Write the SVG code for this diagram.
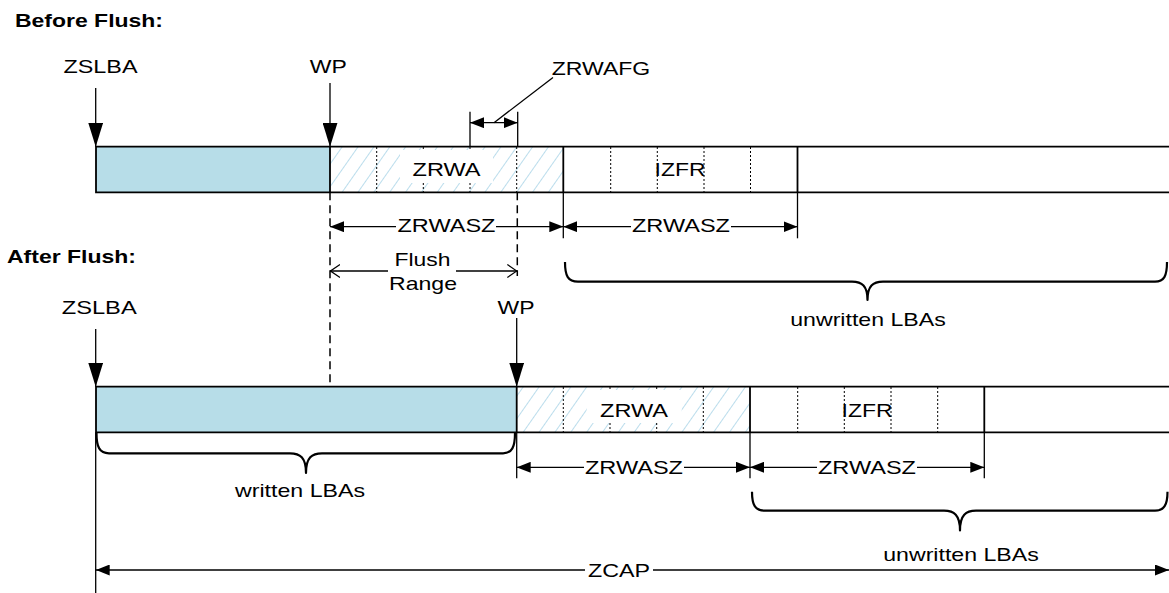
<svg xmlns="http://www.w3.org/2000/svg" width="1169" height="593" viewBox="0 0 1169 593">
<style>
text{font-family:"Liberation Sans",Arial,sans-serif;font-size:19px;fill:#000}
.hd{font-weight:bold}
.m{text-anchor:middle}
.edge{stroke:#000;stroke-width:1.8;fill:none}
.thin{stroke:#000;stroke-width:1.3;fill:none}
.dot{stroke:#000;stroke-width:1;stroke-dasharray:2 2;fill:none}
.dash{stroke:#000;stroke-width:1.5;stroke-dasharray:8 5;fill:none}
.brace{stroke:#000;stroke-width:2.2;fill:none;stroke-linejoin:round}
.blue{fill:#b7dde8}
.bg{fill:#fff}
</style>
<defs>
<pattern id="hatch" patternUnits="userSpaceOnUse" width="13" height="13" patternTransform="rotate(35)">
<line x1="0" y1="-1" x2="0" y2="14" stroke="#a9d4e8" stroke-width="1.6"/>
</pattern>
<marker id="fa" viewBox="0 0 14 11" refX="14" refY="5.5" markerWidth="14" markerHeight="11" markerUnits="userSpaceOnUse" orient="auto-start-reverse"><path d="M0,0 L14,5.5 L0,11 z" fill="#000"/></marker>
<marker id="big" viewBox="0 0 24 15" refX="24" refY="7.5" markerWidth="24" markerHeight="15" markerUnits="userSpaceOnUse" orient="auto"><path d="M0,0 L24,7.5 L0,15 z" fill="#000"/></marker>
<marker id="oa" viewBox="0 0 10 14" refX="10" refY="7" markerWidth="10" markerHeight="14" markerUnits="userSpaceOnUse" orient="auto-start-reverse"><path d="M0,0.5 L9.5,7 L0,13.5" fill="none" stroke="#000" stroke-width="1.2"/></marker>
</defs>

<g id="heading-before"><text class="hd" x="15" y="26.7" textLength="148" lengthAdjust="spacingAndGlyphs">Before Flush:</text></g>
<g id="heading-after"><text class="hd" x="7" y="263.3" textLength="129" lengthAdjust="spacingAndGlyphs">After Flush:</text></g>

<!-- Before flush bar -->
<g id="before-written">
<rect class="blue" x="96" y="146.7" width="234" height="45.6"/>
</g>
<g id="before-zrwa">
<rect fill="url(#hatch)" x="330" y="146.7" width="233.3" height="45.6"/>
<line class="dot" x1="376.7" y1="147" x2="376.7" y2="192"/>
<line class="dot" x1="423.3" y1="147" x2="423.3" y2="192"/>
<line class="dot" x1="470" y1="147" x2="470" y2="192"/>
<line class="dot" x1="516.7" y1="147" x2="516.7" y2="192"/>
<rect class="bg" x="400" y="150" width="93" height="33"/>
<text class="m" x="446.5" y="176" textLength="68" lengthAdjust="spacingAndGlyphs">ZRWA</text>
</g>
<g id="before-izfr">
<line class="dot" x1="610.7" y1="147" x2="610.7" y2="192"/>
<line class="dot" x1="657.3" y1="147" x2="657.3" y2="192"/>
<line class="dot" x1="704" y1="147" x2="704" y2="192"/>
<line class="dot" x1="750.5" y1="147" x2="750.5" y2="192"/>
<text class="m" x="680" y="175.7" textLength="51" lengthAdjust="spacingAndGlyphs">IZFR</text>
</g>
<g id="before-outline">
<path class="edge" d="M1169,146.7 H96 V192.3 H1169"/>
<line class="edge" x1="330" y1="146.7" x2="330" y2="192.3"/>
<line class="edge" x1="563.3" y1="146.7" x2="563.3" y2="192.3"/>
<line class="edge" x1="797.5" y1="146.7" x2="797.5" y2="192.3"/>
</g>

<!-- After flush bar -->
<g id="after-written">
<rect class="blue" x="96" y="386.7" width="420.7" height="45.6"/>
</g>
<g id="after-zrwa">
<rect fill="url(#hatch)" x="516.7" y="386.7" width="233.3" height="45.6"/>
<line class="dot" x1="563.3" y1="387" x2="563.3" y2="432"/>
<line class="dot" x1="610" y1="387" x2="610" y2="432"/>
<line class="dot" x1="656.7" y1="387" x2="656.7" y2="432"/>
<line class="dot" x1="703.3" y1="387" x2="703.3" y2="432"/>
<rect class="bg" x="586.7" y="390" width="95" height="33"/>
<text class="m" x="634" y="416.7" textLength="68" lengthAdjust="spacingAndGlyphs">ZRWA</text>
</g>
<g id="after-izfr">
<line class="dot" x1="797.7" y1="387" x2="797.7" y2="432"/>
<line class="dot" x1="844.3" y1="387" x2="844.3" y2="432"/>
<line class="dot" x1="891" y1="387" x2="891" y2="432"/>
<line class="dot" x1="937.7" y1="387" x2="937.7" y2="432"/>
<text class="m" x="867" y="416.7" textLength="51" lengthAdjust="spacingAndGlyphs">IZFR</text>
</g>
<g id="after-outline">
<path class="edge" d="M1169,386.7 H96 V432.3 H1169"/>
<line class="edge" x1="516.7" y1="386.7" x2="516.7" y2="432.3"/>
<line class="edge" x1="750" y1="386.7" x2="750" y2="432.3"/>
<line class="edge" x1="984.3" y1="386.7" x2="984.3" y2="432.3"/>
</g>

<!-- Pointer labels -->
<g id="zslba-top"><text class="m" x="100.5" y="72.7" textLength="74" lengthAdjust="spacingAndGlyphs">ZSLBA</text></g>
<g id="wp-top"><text class="m" x="328.3" y="72.7" textLength="37" lengthAdjust="spacingAndGlyphs">WP</text></g>
<g id="zrwafg"><text class="m" x="601" y="75" textLength="98.5" lengthAdjust="spacingAndGlyphs">ZRWAFG</text></g>
<g id="zslba-bottom"><text class="m" x="99.2" y="314" textLength="75" lengthAdjust="spacingAndGlyphs">ZSLBA</text></g>
<g id="wp-bottom"><text class="m" x="516" y="314" textLength="37" lengthAdjust="spacingAndGlyphs">WP</text></g>

<g id="connectors">
<!-- pointer arrows -->
<line class="thin" x1="95.7" y1="88" x2="95.7" y2="146.7" marker-end="url(#big)"/>
<line class="thin" x1="330" y1="83" x2="330" y2="146.7" marker-end="url(#big)"/>
<line class="thin" x1="95.7" y1="329" x2="95.7" y2="386.7" marker-end="url(#big)"/>
<line class="thin" x1="516.7" y1="318" x2="516.7" y2="386.7" marker-end="url(#big)"/>

<!-- ZRWAFG -->
<line class="thin" x1="470" y1="111.7" x2="470" y2="146.7"/>
<line class="thin" x1="517.7" y1="111.7" x2="517.7" y2="146.7"/>
<line class="thin" x1="470" y1="122.7" x2="517.7" y2="122.7" marker-start="url(#fa)" marker-end="url(#fa)"/>
<line class="thin" x1="494" y1="122.7" x2="553" y2="77.5"/>

<!-- extension lines below top bar -->
<line class="dash" x1="330" y1="192.3" x2="330" y2="386.7"/>
<line class="dash" x1="517.3" y1="192.3" x2="517.3" y2="276"/>
<line class="thin" x1="563.3" y1="192.3" x2="563.3" y2="238.3"/>
<line class="thin" x1="797.5" y1="192.3" x2="797.5" y2="238.3"/>

<!-- ZRWASZ top -->
<line class="thin" x1="330" y1="226.7" x2="563.3" y2="226.7" marker-start="url(#fa)" marker-end="url(#fa)"/>
<line class="thin" x1="563.3" y1="226.7" x2="797.5" y2="226.7" marker-start="url(#fa)" marker-end="url(#fa)"/>

<!-- Flush range -->
<line class="thin" x1="330" y1="271" x2="517.3" y2="271" marker-start="url(#oa)" marker-end="url(#oa)"/>

<!-- extension lines below bottom bar -->
<line class="thin" x1="516.7" y1="432.3" x2="516.7" y2="478.3"/>
<line class="thin" x1="750" y1="432.3" x2="750" y2="478.3"/>
<line class="thin" x1="984.3" y1="432.3" x2="984.3" y2="478.3"/>
<line class="thin" x1="95.7" y1="432.3" x2="95.7" y2="593"/>

<!-- ZRWASZ bottom -->
<line class="thin" x1="516.7" y1="467.3" x2="750" y2="467.3" marker-start="url(#fa)" marker-end="url(#fa)"/>
<line class="thin" x1="750" y1="467.3" x2="984.3" y2="467.3" marker-start="url(#fa)" marker-end="url(#fa)"/>

<!-- ZCAP -->
<line class="thin" x1="95.7" y1="570" x2="1169" y2="570" marker-start="url(#fa)" marker-end="url(#fa)"/>

<!-- braces -->
<path class="brace" d="M565,262 C565,276 568,281.7 578,281.7 L852,281.7 C862,281.7 867.5,286 867.5,300 C867.5,286 873,281.7 883,281.7 L1155,281.7 C1164,281.7 1167,276 1167,262"/>
<path class="brace" d="M96.5,433 C96.5,447 99.5,453.3 109,453.3 L290,453.3 C300,453.3 306,457.5 306,473 C306,457.5 312,453.3 322,453.3 L503,453.3 C512,453.3 515,447 515,433"/>
<path class="brace" d="M752,491.7 C752,505 755,510.7 765,510.7 L944,510.7 C954,510.7 960,515 960,530.5 C960,515 966,510.7 976,510.7 L1155,510.7 C1164,510.7 1167.5,505 1167.5,491.7"/>
</g>

<!-- dimension labels -->
<g id="zrwasz-top-1"><rect class="bg" x="396" y="215" width="100" height="20"/><text class="m" x="446.5" y="232" textLength="98" lengthAdjust="spacingAndGlyphs">ZRWASZ</text></g>
<g id="zrwasz-top-2"><rect class="bg" x="631" y="215" width="100" height="20"/><text class="m" x="681" y="232" textLength="98" lengthAdjust="spacingAndGlyphs">ZRWASZ</text></g>
<g id="flush-range"><rect class="bg" x="388" y="262" width="68" height="18"/><text class="m" x="422.5" y="265.5" textLength="56" lengthAdjust="spacingAndGlyphs">Flush</text><text class="m" x="423" y="290" textLength="68" lengthAdjust="spacingAndGlyphs">Range</text></g>
<g id="unwritten-top"><text class="m" x="868" y="326" textLength="155.5" lengthAdjust="spacingAndGlyphs">unwritten LBAs</text></g>
<g id="zrwasz-bottom-1"><rect class="bg" x="584" y="456" width="100" height="20"/><text class="m" x="634" y="474" textLength="98" lengthAdjust="spacingAndGlyphs">ZRWASZ</text></g>
<g id="zrwasz-bottom-2"><rect class="bg" x="817" y="456" width="100" height="20"/><text class="m" x="867" y="474" textLength="98" lengthAdjust="spacingAndGlyphs">ZRWASZ</text></g>
<g id="written"><text class="m" x="300" y="497" textLength="130" lengthAdjust="spacingAndGlyphs">written LBAs</text></g>
<g id="unwritten-bottom"><text class="m" x="961" y="560.7" textLength="155.5" lengthAdjust="spacingAndGlyphs">unwritten LBAs</text></g>
<g id="zcap"><rect class="bg" x="585" y="560" width="68" height="20"/><text class="m" x="619" y="577" textLength="62" lengthAdjust="spacingAndGlyphs">ZCAP</text></g>
</svg>
